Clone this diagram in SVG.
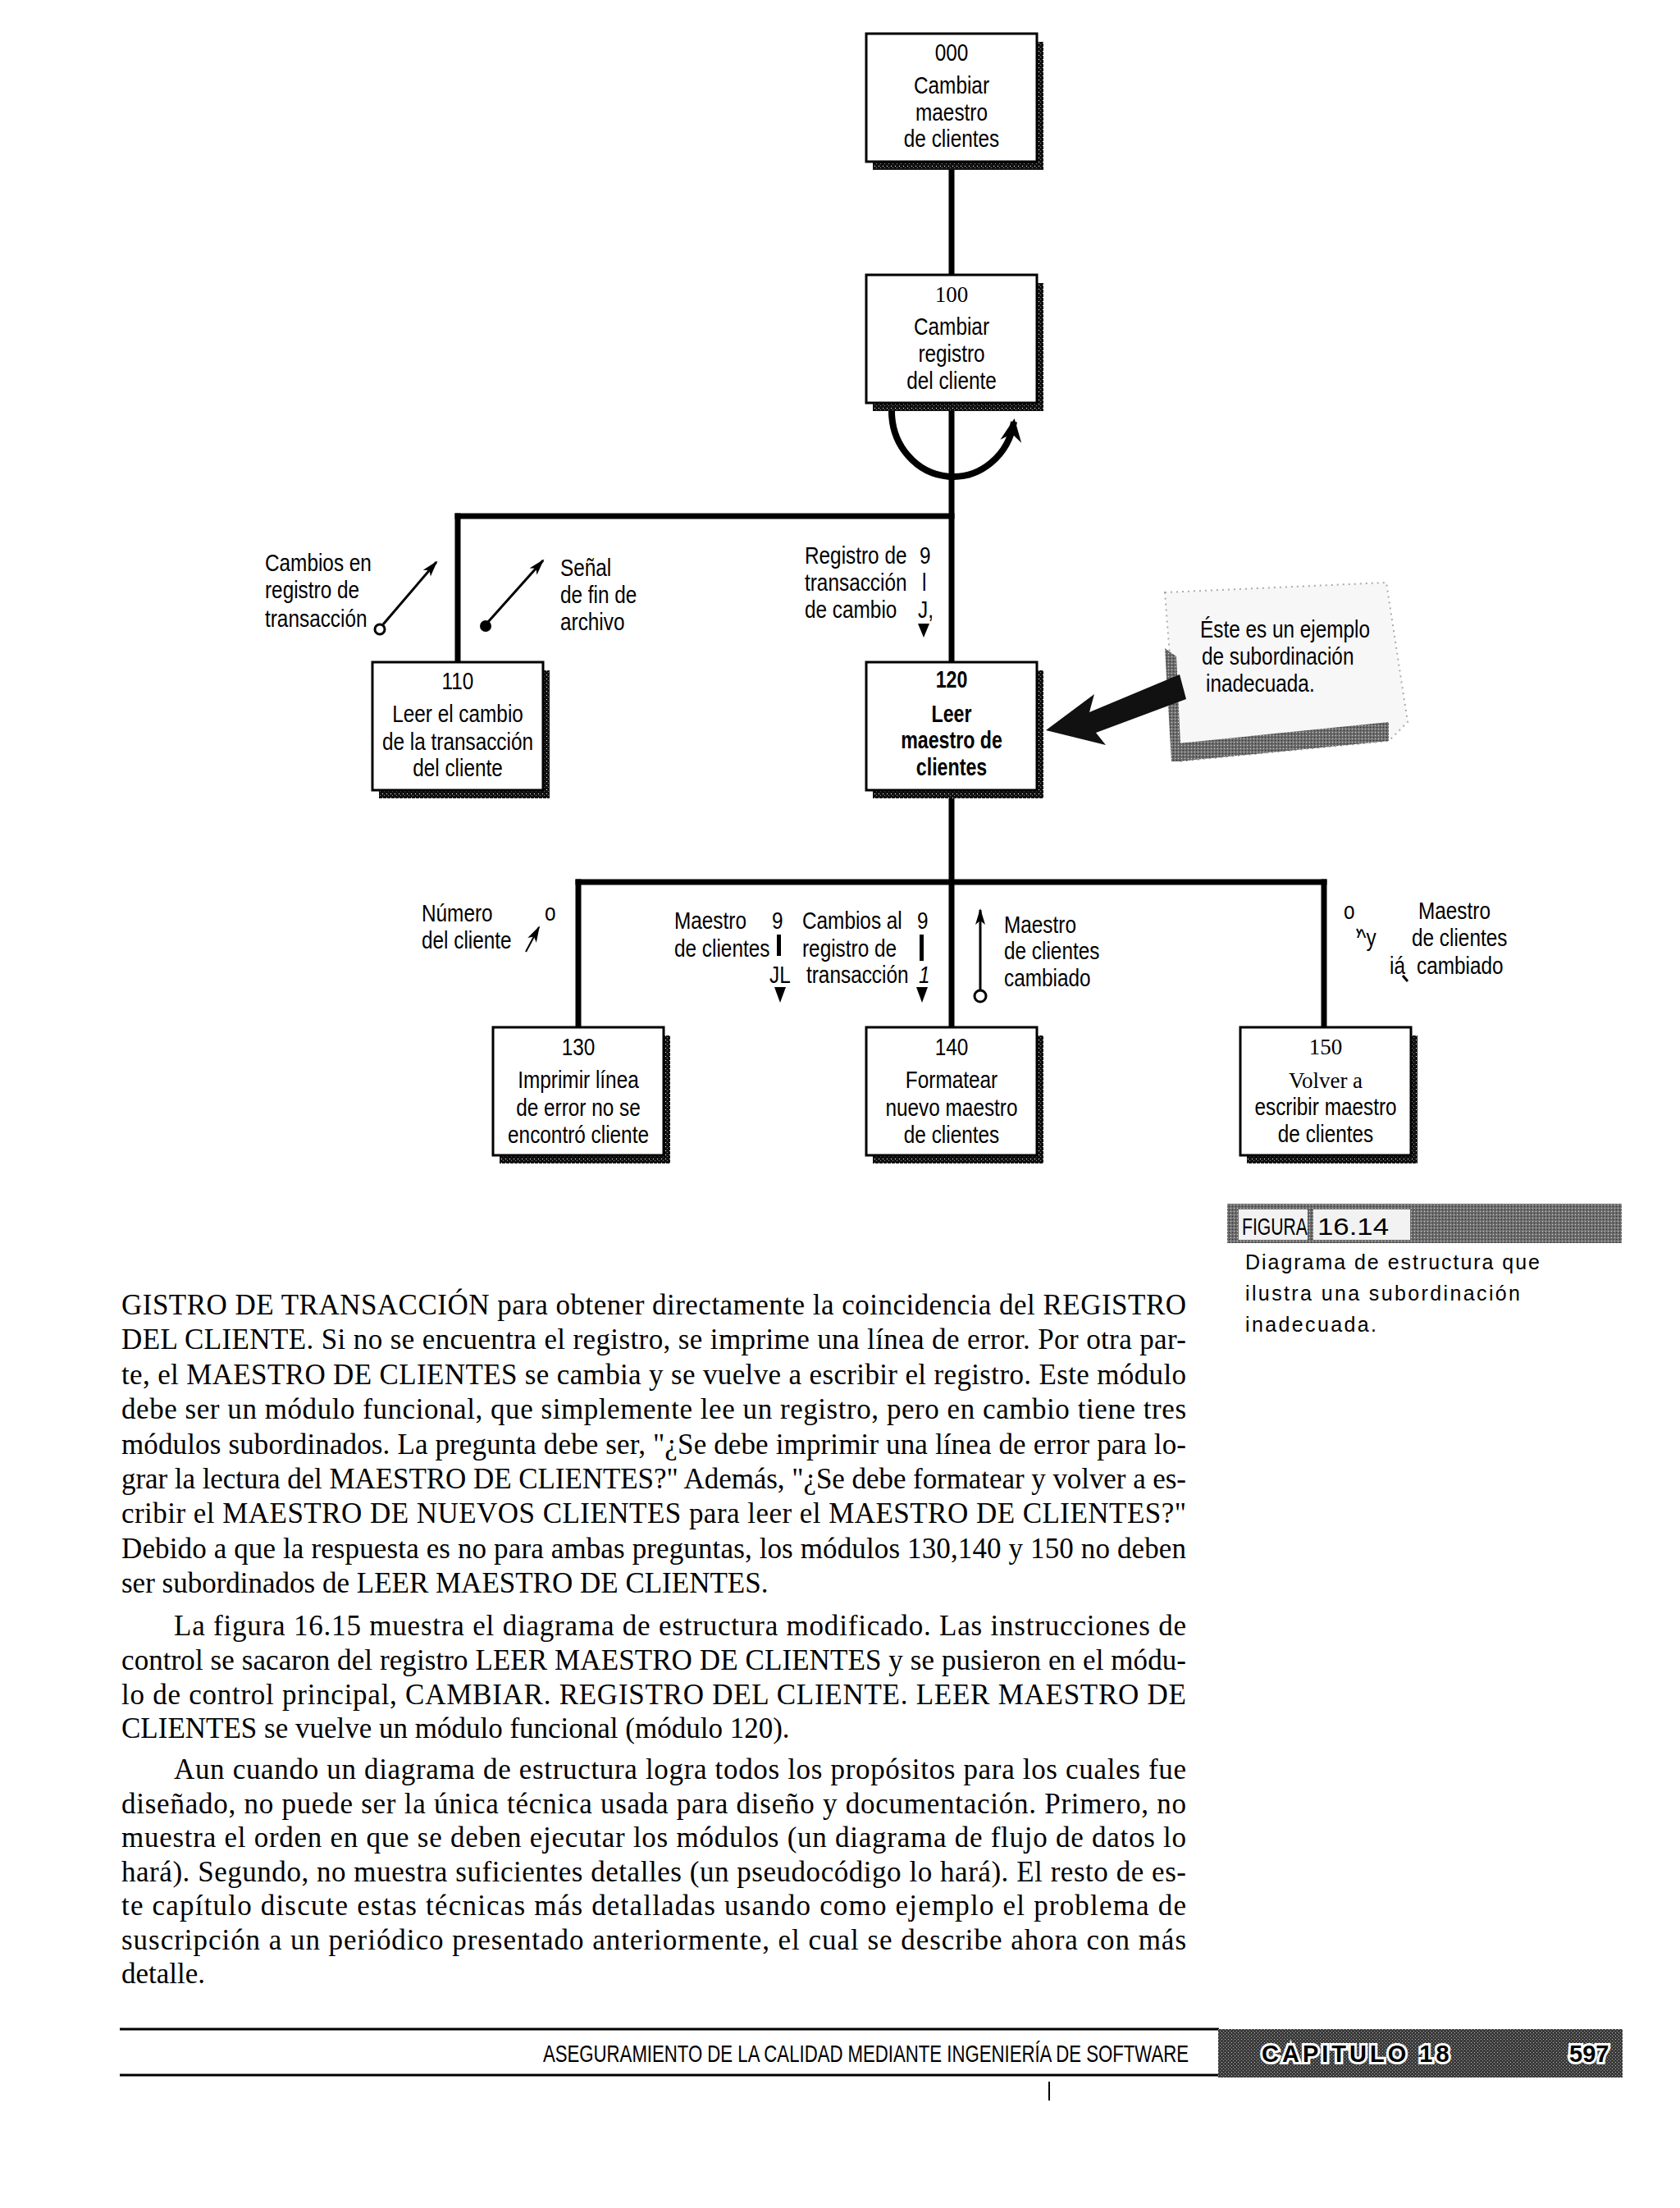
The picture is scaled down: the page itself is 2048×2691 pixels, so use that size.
<svg xmlns="http://www.w3.org/2000/svg" width="2048" height="2691" viewBox="0 0 2048 2691">
<style>
.bg{fill:#ffffff}
.box{fill:#ffffff;stroke:#000;stroke-width:3}
.sh{fill:url(#shpat)}
.t{font-family:"Liberation Sans",Arial,sans-serif;font-size:29px;fill:#000}
.c{text-anchor:middle}
.s{font-family:"Liberation Serif","Times New Roman",serif;font-size:27px;fill:#000}
.b{font-weight:bold}
.w{stroke:#000;stroke-width:7;fill:none;stroke-linecap:square}
.fl{stroke:#000;stroke-width:3;fill:none}
.body{font-family:"Liberation Serif","Times New Roman",serif;font-size:35px;fill:#000}
.cap{font-family:"Liberation Sans",Arial,sans-serif;font-size:25px;fill:#000}
</style>
<defs>
<pattern id="shpat" width="5" height="5" patternUnits="userSpaceOnUse">
<rect width="5" height="5" fill="#111"/>
<rect x="1" y="2" width="1" height="1" fill="#fff"/>
<rect x="3" y="4" width="1" height="1" fill="#888"/>
</pattern>
<pattern id="gray" width="4" height="4" patternUnits="userSpaceOnUse">
<rect width="4" height="4" fill="#6e6e6e"/>
<rect x="0" y="0" width="1" height="1" fill="#ddd"/>
<rect x="2" y="2" width="1" height="1" fill="#222"/>
</pattern>
<pattern id="dark" width="4" height="4" patternUnits="userSpaceOnUse">
<rect width="4" height="4" fill="#3a3a3a"/>
<rect x="1" y="1" width="1" height="1" fill="#bbb"/>
<rect x="3" y="3" width="1" height="1" fill="#999"/>
</pattern>
<marker id="ah" viewBox="-22 -10 26 20" markerWidth="26" markerHeight="20" refX="0" refY="0" orient="auto" markerUnits="userSpaceOnUse">
<path d="M2,0 L-18,-6 L-13,0 L-18,6 z" fill="#000"/>
</marker>
<marker id="ahl" viewBox="-28 -16 34 32" markerWidth="34" markerHeight="32" refX="0" refY="0" orient="auto" markerUnits="userSpaceOnUse">
<path d="M4,0 L-24,-13 L-15,0 L-24,13 z" fill="#000"/>
</marker>
</defs>
<rect class="bg" width="2048" height="2691"/>

<g id="connectors">
<line class="w" x1="1160" y1="200" x2="1160" y2="335"/>
<line class="w" x1="1160" y1="500" x2="1160" y2="807"/>
<line class="w" x1="558" y1="629" x2="1160" y2="629"/>
<line class="w" x1="558" y1="629" x2="558" y2="807"/>
<line class="w" x1="1160" y1="970" x2="1160" y2="1252"/>
<line class="w" x1="705" y1="1075" x2="1614" y2="1075"/>
<line class="w" x1="705" y1="1075" x2="705" y2="1252"/>
<line class="w" x1="1614" y1="1075" x2="1614" y2="1252"/>
<path d="M1087,501 A75,80 0 0 0 1236,514" stroke="#000" stroke-width="8" fill="none" marker-end="url(#ahl)"/>
</g>

<g id="n000">
<rect class="sh" x="1064" y="51" width="208" height="156"/>
<rect class="box" x="1056" y="41" width="208" height="156"/>
<text class="t c" transform="translate(1160,74) scale(.84,1)">000</text>
<text class="t c" transform="translate(1160,114) scale(.84,1)">Cambiar</text>
<text class="t c" transform="translate(1160,147) scale(.84,1)">maestro</text>
<text class="t c" transform="translate(1160,179) scale(.84,1)">de clientes</text>
</g>

<g id="n100">
<rect class="sh" x="1064" y="345" width="208" height="156"/>
<rect class="box" x="1056" y="335" width="208" height="156"/>
<text class="s c" x="1160" y="368">100</text>
<text class="t c" transform="translate(1160,408) scale(.84,1)">Cambiar</text>
<text class="t c" transform="translate(1160,441) scale(.84,1)">registro</text>
<text class="t c" transform="translate(1160,474) scale(.84,1)">del cliente</text>
</g>

<g id="n110">
<rect class="sh" x="462" y="817" width="208" height="156"/>
<rect class="box" x="454" y="807" width="208" height="156"/>
<text class="t c" transform="translate(558,840) scale(.84,1)">110</text>
<text class="t c" transform="translate(558,880) scale(.84,1)">Leer el cambio</text>
<text class="t c" transform="translate(558,914) scale(.84,1)">de la transacción</text>
<text class="t c" transform="translate(558,946) scale(.84,1)">del cliente</text>
</g>

<g id="n120">
<rect class="sh" x="1064" y="817" width="208" height="156"/>
<rect class="box" x="1056" y="807" width="208" height="156"/>
<text class="t c b" transform="translate(1160,838) scale(.8,1)">120</text>
<text class="t c b" transform="translate(1160,880) scale(.8,1)">Leer</text>
<text class="t c b" transform="translate(1160,912) scale(.8,1)">maestro de</text>
<text class="t c b" transform="translate(1160,945) scale(.8,1)">clientes</text>
</g>

<g id="n130">
<rect class="sh" x="609" y="1262" width="208" height="156"/>
<rect class="box" x="601" y="1252" width="208" height="156"/>
<text class="t c" transform="translate(705,1286) scale(.84,1)">130</text>
<text class="t c" transform="translate(705,1326) scale(.84,1)">Imprimir línea</text>
<text class="t c" transform="translate(705,1360) scale(.84,1)">de error no se</text>
<text class="t c" transform="translate(705,1393) scale(.84,1)">encontró cliente</text>
</g>

<g id="n140">
<rect class="sh" x="1064" y="1262" width="208" height="156"/>
<rect class="box" x="1056" y="1252" width="208" height="156"/>
<text class="t c" transform="translate(1160,1286) scale(.84,1)">140</text>
<text class="t c" transform="translate(1160,1326) scale(.84,1)">Formatear</text>
<text class="t c" transform="translate(1160,1360) scale(.84,1)">nuevo maestro</text>
<text class="t c" transform="translate(1160,1393) scale(.84,1)">de clientes</text>
</g>

<g id="n150">
<rect class="sh" x="1520" y="1262" width="208" height="156"/>
<rect class="box" x="1512" y="1252" width="208" height="156"/>
<text class="s c" x="1616" y="1285">150</text>
<text class="s c" x="1616" y="1326">Volver a</text>
<text class="t c" transform="translate(1616,1359) scale(.84,1)">escribir maestro</text>
<text class="t c" transform="translate(1616,1392) scale(.84,1)">de clientes</text>
</g>

<g id="couples">
<text class="t" transform="translate(323,696) scale(.84,1)">Cambios en</text>
<text class="t" transform="translate(323,729) scale(.84,1)">registro de</text>
<text class="t" transform="translate(323,764) scale(.84,1)">transacción</text>
<circle cx="463" cy="767" r="6" fill="#fff" stroke="#000" stroke-width="3"/>
<line class="fl" x1="467" y1="761" x2="532" y2="685" marker-end="url(#ah)"/>
<circle cx="592" cy="763" r="7" fill="#000"/>
<line class="fl" x1="595" y1="758" x2="662" y2="683" marker-end="url(#ah)"/>
<text class="t" transform="translate(683,702) scale(.84,1)">Señal</text>
<text class="t" transform="translate(683,735) scale(.84,1)">de fin de</text>
<text class="t" transform="translate(683,768) scale(.84,1)">archivo</text>

<text class="t" transform="translate(981,687) scale(.84,1)">Registro de</text>
<text class="t" transform="translate(1121,687) scale(.84,1)">9</text>
<text class="t" transform="translate(981,720) scale(.84,1)">transacción</text>
<text class="t" transform="translate(1124,720) scale(.84,1)">l</text>
<text class="t" transform="translate(981,753) scale(.84,1)">de cambio</text>
<text class="t" transform="translate(1119,753) scale(.84,1)">J,</text>
<polygon points="1119,760 1133,760 1126,777" fill="#000"/>

<text class="t" transform="translate(514,1123) scale(.84,1)">Número</text>
<text class="t" transform="translate(664,1122) scale(.84,1)">o</text>
<text class="t" transform="translate(514,1156) scale(.84,1)">del cliente</text>
<line x1="641" y1="1160" x2="657" y2="1130" stroke="#000" stroke-width="2" marker-end="url(#ah)"/>

<text class="t" transform="translate(822,1132) scale(.84,1)">Maestro</text>
<text class="t" transform="translate(941,1132) scale(.84,1)">9</text>
<text class="t" transform="translate(822,1166) scale(.84,1)">de clientes</text>
<rect x="947" y="1139" width="5" height="26" fill="#000"/>
<text class="t" transform="translate(938,1198) scale(.84,1)">JL</text>
<polygon points="944,1203 958,1203 951,1222" fill="#000"/>

<text class="t" transform="translate(978,1132) scale(.84,1)">Cambios al</text>
<text class="t" transform="translate(1118,1132) scale(.84,1)">9</text>
<text class="t" transform="translate(978,1166) scale(.84,1)">registro de</text>
<rect x="1121" y="1139" width="5" height="32" fill="#000"/>
<text class="t" transform="translate(983,1198) scale(.84,1)">transacción</text>
<text class="t" transform="translate(1120,1198) scale(.84,1)" font-style="italic">1</text>
<polygon points="1117,1203 1131,1203 1124,1222" fill="#000"/>

<line class="fl" x1="1195" y1="1207" x2="1195" y2="1109" marker-end="url(#ah)"/>
<circle cx="1195" cy="1214" r="7" fill="#fff" stroke="#000" stroke-width="3"/>
<text class="t" transform="translate(1224,1137) scale(.84,1)">Maestro</text>
<text class="t" transform="translate(1224,1169) scale(.84,1)">de clientes</text>
<text class="t" transform="translate(1224,1202) scale(.84,1)">cambiado</text>

<text class="t" transform="translate(1638,1120) scale(.84,1)">o</text>
<text class="t" transform="translate(1654,1153) scale(.84,1)">^y</text>
<line x1="1654" y1="1132" x2="1657" y2="1138" stroke="#000" stroke-width="2"/>
<text class="t" transform="translate(1694,1187) scale(.84,1)">iá</text>
<line x1="1710" y1="1189" x2="1716" y2="1196" stroke="#000" stroke-width="3"/>
<text class="t" transform="translate(1729,1120) scale(.84,1)">Maestro</text>
<text class="t" transform="translate(1721,1153) scale(.84,1)">de clientes</text>
<text class="t" transform="translate(1727,1187) scale(.84,1)">cambiado</text>
</g>

<g id="note">
<polygon points="1420,722 1690,710 1716,880 1693,903 1436,928" fill="#f7f7f7" stroke="#aaa" stroke-width="2" stroke-dasharray="2 5"/>
<polygon points="1436,906 1693,880 1693,903 1436,928" fill="url(#gray)"/>
<polygon points="1420,790 1434,800 1440,928 1428,928" fill="url(#gray)"/>
<text class="t" transform="translate(1463,777) scale(.84,1)">Éste es un ejemplo</text>
<text class="t" transform="translate(1465,810) scale(.84,1)">de subordinación</text>
<text class="t" transform="translate(1470,843) scale(.84,1)">inadecuada.</text>
<polygon points="1275,890 1334,846 1328,868 1438,822 1446,852 1336,893 1348,908" fill="#111"/>
</g>

<g id="caption">
<rect x="1496" y="1467" width="481" height="48" fill="url(#gray)"/>
<rect x="1510" y="1474" width="84" height="37" fill="#f2f2f2"/>
<rect x="1601" y="1474" width="118" height="37" fill="#f2f2f2"/>
<text class="t" transform="translate(1514,1505) scale(.73,1)" font-size="28">FIGURA</text>
<text class="t" transform="translate(1606,1505) scale(1.2,1)" font-size="32">16.14</text>
<text class="cap" x="1518" y="1547" textLength="359">Diagrama de estructura que</text>
<text class="cap" x="1518" y="1585" textLength="335">ilustra una subordinación</text>
<text class="cap" x="1518" y="1623" textLength="160">inadecuada.</text>
</g>

<g id="bodytext" class="body">
<text x="148" y="1602" textLength="1298">GISTRO DE TRANSACCIÓN para obtener directamente la coincidencia del REGISTRO</text>
<text x="148" y="1644" textLength="1298">DEL CLIENTE. Si no se encuentra el registro, se imprime una línea de error. Por otra par-</text>
<text x="148" y="1687" textLength="1298">te, el MAESTRO DE CLIENTES se cambia y se vuelve a escribir el registro. Este módulo</text>
<text x="148" y="1729" textLength="1298">debe ser un módulo funcional, que simplemente lee un registro, pero en cambio tiene tres</text>
<text x="148" y="1772" textLength="1298">módulos subordinados. La pregunta debe ser, "¿Se debe imprimir una línea de error para lo-</text>
<text x="148" y="1814" textLength="1298">grar la lectura del MAESTRO DE CLIENTES?" Además, "¿Se debe formatear y volver a es-</text>
<text x="148" y="1856" textLength="1298">cribir el MAESTRO DE NUEVOS CLIENTES para leer el MAESTRO DE CLIENTES?"</text>
<text x="148" y="1899" textLength="1298">Debido a que la respuesta es no para ambas preguntas, los módulos 130,140 y 150 no deben</text>
<text x="148" y="1941">ser subordinados de LEER MAESTRO DE CLIENTES.</text>
<text x="212" y="1993" textLength="1234">La figura 16.15 muestra el diagrama de estructura modificado. Las instrucciones de</text>
<text x="148" y="2035" textLength="1298">control se sacaron del registro LEER MAESTRO DE CLIENTES y se pusieron en el módu-</text>
<text x="148" y="2077" textLength="1298">lo de control principal, CAMBIAR. REGISTRO DEL CLIENTE. LEER MAESTRO DE</text>
<text x="148" y="2118">CLIENTES se vuelve un módulo funcional (módulo 120).</text>
<text x="212" y="2168" textLength="1234">Aun cuando un diagrama de estructura logra todos los propósitos para los cuales fue</text>
<text x="148" y="2210" textLength="1298">diseñado, no puede ser la única técnica usada para diseño y documentación. Primero, no</text>
<text x="148" y="2251" textLength="1298">muestra el orden en que se deben ejecutar los módulos (un diagrama de flujo de datos lo</text>
<text x="148" y="2293" textLength="1298">hará). Segundo, no muestra suficientes detalles (un pseudocódigo lo hará). El resto de es-</text>
<text x="148" y="2334" textLength="1298">te capítulo discute estas técnicas más detalladas usando como ejemplo el problema de</text>
<text x="148" y="2376" textLength="1298">suscripción a un periódico presentado anteriormente, el cual se describe ahora con más</text>
<text x="148" y="2417">detalle.</text>
</g>

<g id="footer">
<line x1="146" y1="2473" x2="1486" y2="2473" stroke="#000" stroke-width="3"/>
<line x1="146" y1="2529" x2="1486" y2="2529" stroke="#000" stroke-width="3"/>
<text class="t" transform="translate(662,2513) scale(.765,1)" font-size="28">ASEGURAMIENTO DE LA CALIDAD MEDIANTE INGENIERÍA DE SOFTWARE</text>
<rect x="1485" y="2473" width="493" height="59" fill="url(#dark)"/>
<text class="t b" x="1538" y="2513" font-size="30" letter-spacing="4" stroke="#fff" stroke-width="6" paint-order="stroke">CAPITULO 18</text>
<text class="t b" x="1913" y="2513" font-size="30" stroke="#fff" stroke-width="6" paint-order="stroke">597</text>
<line x1="1279" y1="2537" x2="1279" y2="2560" stroke="#000" stroke-width="2"/>
</g>
</svg>
